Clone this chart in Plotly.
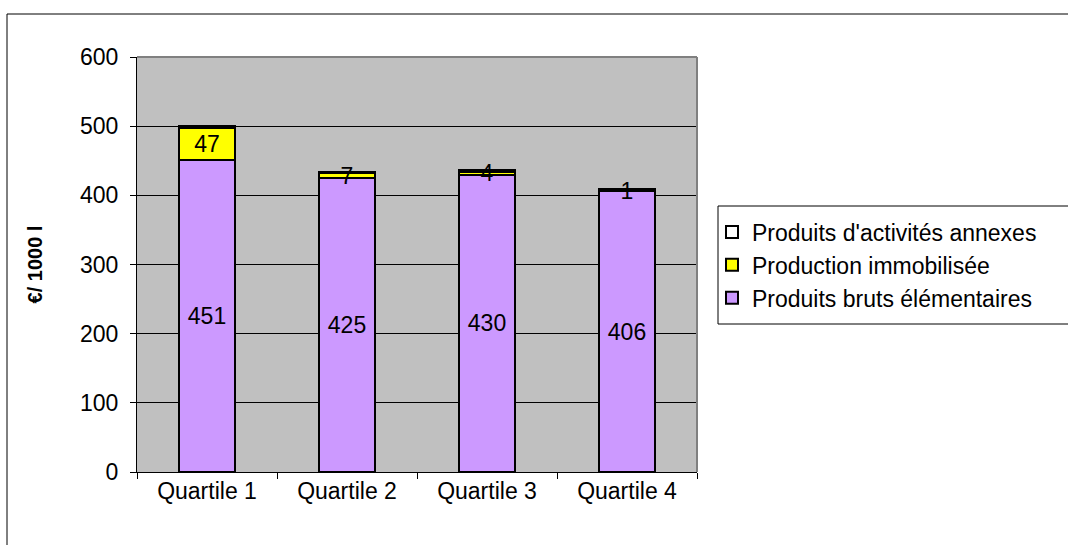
import plotly.graph_objects as go

# Revenue components per quartile (€ / 1000 l)
quartiles = ["Quartile 1", "Quartile 2", "Quartile 3", "Quartile 4"]
produits_bruts = [451, 425, 430, 406]
production_immobilisee = [47, 7, 4, 1]
produits_annexes = [2, 2, 2, 2]

FONT = "Liberation Sans, Arial, sans-serif"
W, H = 1068, 545
L, R, T, B = 137, 697, 57, 472  # plot area in pixels
FS = 23


def px_x(p):
    return (p - L) / (R - L)


def px_y(p):
    return (B - p) / (B - T)


line = dict(color="#000000", width=2)
label_font = dict(color="#000000", size=FS, family=FONT)

fig = go.Figure()
fig.add_trace(go.Bar(
    x=quartiles, y=produits_bruts, name="Produits bruts élémentaires",
    marker=dict(color="#CC99FF", line=line),
    text=[str(v) for v in produits_bruts], textposition="inside",
    insidetextanchor="middle", textangle=0, constraintext="none",
    textfont=label_font, legendgroup="a", width=0.4,
))
fig.add_trace(go.Bar(
    x=quartiles, y=production_immobilisee, name="Production immobilisée",
    marker=dict(color="#FFFF00", line=line),
    text=[str(v) for v in production_immobilisee], textposition="inside",
    insidetextanchor="middle", textangle=0, constraintext="none",
    textfont=label_font, legendgroup="b", width=0.4,
))
fig.add_trace(go.Bar(
    x=quartiles, y=produits_annexes, name="Produits d'activités annexes",
    marker=dict(color="#FFFFFF", line=line),
    legendgroup="c", width=0.4,
))

fig.update_layout(
    width=W, height=H,
    barmode="stack",
    paper_bgcolor="#FFFFFF",
    plot_bgcolor="#C0C0C0",
    margin=dict(l=L, r=W - R, t=T, b=H - B, autoexpand=False),
    font=dict(family=FONT, size=FS, color="#000000"),
    uniformtext=dict(mode="show", minsize=FS),
    showlegend=True,
    legend=dict(
        x=px_x(712), y=px_y(265), xanchor="left", yanchor="middle",
        traceorder="reversed", tracegroupgap=15,
        bgcolor="rgba(0,0,0,0)", borderwidth=0,
        font=dict(size=FS, family=FONT),
    ),
    xaxis=dict(
        showline=True, linecolor="#000000", linewidth=1,
        ticks="outside", tickson="boundaries", ticklen=6, tickcolor="#000000",
        tickfont=dict(size=FS), ticklabelstandoff=-2, showgrid=False,
    ),
    yaxis=dict(
        range=[0, 600], dtick=100, tick0=0,
        showline=True, linecolor="#000000", linewidth=1,
        ticks="outside", ticklen=6, tickcolor="#000000",
        tickfont=dict(size=FS), ticklabelstandoff=7,
        showgrid=True, gridcolor="#000000", gridwidth=1,
        zeroline=False,
        title=dict(text="<b>€/ 1000 l</b>", font=dict(size=20), standoff=32),
    ),
    shapes=[
        # outer chart frame
        dict(type="rect", xref="paper", yref="paper",
             x0=px_x(7), x1=px_x(1080), y0=px_y(560), y1=px_y(14),
             line=dict(color="#000000", width=1), layer="below"),
        # plot area frame (top and right edges)
        dict(type="line", xref="paper", yref="paper",
             x0=0, x1=1, y0=1, y1=1, line=dict(color="#808080", width=2)),
        dict(type="line", xref="paper", yref="paper",
             x0=1, x1=1, y0=0, y1=1, line=dict(color="#808080", width=2)),
        # legend frame
        dict(type="rect", xref="paper", yref="paper",
             x0=px_x(718), x1=px_x(1090), y0=px_y(324), y1=px_y(206),
             line=dict(color="#000000", width=1)),
    ],
)

fig.write_html("out.html")
